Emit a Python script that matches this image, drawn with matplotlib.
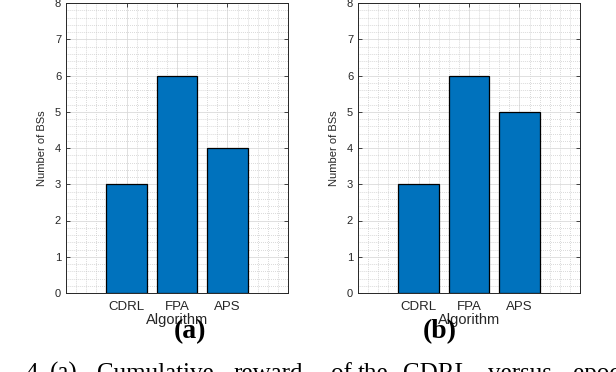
import numpy as np
import matplotlib
matplotlib.use('Agg')
import matplotlib.pyplot as plt
from matplotlib.ticker import MultipleLocator

algorithms = ['CDRL', 'FPA', 'APS']
bs_a = [3, 6, 4]
bs_b = [3, 6, 5]
panel_tags = ['(a)', '(b)']

# caption words (justified line in the paper, cut at the bottom edge)
caption_words = ['Fig.', '4.', '(a)', 'Cumulative', 'reward', 'of', 'the', 'CDRL', 'versus', 'epochs']
caption_x = [-33, 25, 50, 97, 233, 331, 358, 403, 488, 573]

plt.rcParams['font.family'] = ['Liberation Sans', 'DejaVu Sans']

W, H = 616, 372
fig = plt.figure(figsize=(W / 100, H / 100), dpi=100)

lefts = [66 / W, 358 / W]
tag_x = [190, 440]
w = 222 / W
b = 1 - 293 / H
h = 290 / H

for left, vals, tag, tx in zip(lefts, [bs_a, bs_b], panel_tags, tag_x):
    ax = fig.add_axes([left, b, w, h])
    x = np.arange(1, len(algorithms) + 1)
    ax.bar(x, vals, width=0.8, color='#0072BD', edgecolor='black', linewidth=0.9, zorder=3)
    ax.set_xlim(-0.2, 4.2)
    ax.set_ylim(0, 8)
    ax.set_xticks(x)
    ax.set_xticklabels(algorithms, fontsize=9.5, color='#262626')
    ax.set_yticks(range(0, 9))
    ax.tick_params(axis='y', labelsize=8, colors='#262626')
    ax.xaxis.set_minor_locator(MultipleLocator(0.2))
    ax.yaxis.set_minor_locator(MultipleLocator(0.2))
    ax.tick_params(which='major', direction='in', length=3, width=0.6,
                   top=True, right=True, color='#262626')
    ax.tick_params(axis='x', which='major', pad=6)
    ax.tick_params(which='minor', length=0)
    ax.grid(which='major', color='#dadada', linewidth=0.6, zorder=0)
    ax.grid(which='minor', color='#c4c4c4', linestyle=(0, (1, 1.6)), linewidth=0.55, zorder=0)
    ax.set_axisbelow(True)
    for s in ax.spines.values():
        s.set_color('#262626')
        s.set_linewidth(0.7)
    ax.set_ylabel('Number of BSs', fontsize=8, color='#262626', labelpad=6)
    ax.set_xlabel('Algorithm', fontsize=10.5, color='#262626', labelpad=0)
    fig.text(tx / W, 1 - 338 / H, tag, fontsize=20, fontweight='bold',
             family='Liberation Serif', ha='center', va='baseline')

for word, px in zip(caption_words, caption_x):
    fig.text(px / W, 1 - 380 / H, word, fontsize=18,
             family='Liberation Serif', ha='left', va='baseline')

fig.savefig('out.png', dpi=100)
